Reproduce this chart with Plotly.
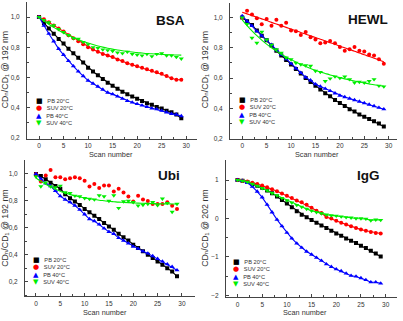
import plotly.graph_objects as go

W, H = 403, 321
scans = list(range(30))

series_names = ["PB 20°C", "SUV 20°C", "PB 40°C", "SUV 40°C"]
series_colors = ["#000000", "#ff0000", "#0000ff", "#00ee00"]
series_symbols = ["square", "circle", "triangle-up", "triangle-down"]
legend_glyphs = ["■", "●", "▲", "▼"]

# ---- BSA ----
bsa_pb20 = [1.0,0.96,0.925,0.89,0.855,0.825,0.79,0.76,0.73,0.70,0.665,0.64,0.615,0.59,0.565,0.545,0.525,0.505,0.49,0.475,0.46,0.445,0.43,0.42,0.405,0.395,0.38,0.37,0.355,0.33]
bsa_suv20 = [1.0,0.985,0.965,0.945,0.925,0.905,0.88,0.86,0.84,0.82,0.80,0.785,0.77,0.755,0.745,0.735,0.72,0.71,0.695,0.685,0.675,0.665,0.655,0.645,0.635,0.625,0.61,0.595,0.585,0.585]
bsa_pb40 = [1.0,0.943,0.89,0.84,0.79,0.75,0.71,0.675,0.64,0.61,0.58,0.56,0.54,0.52,0.50,0.49,0.475,0.46,0.445,0.435,0.425,0.415,0.405,0.395,0.39,0.38,0.37,0.36,0.355,0.345]
bsa_suv40 = [1.0,0.98,0.965,0.945,0.92,0.90,0.88,0.86,0.855,0.835,0.82,0.80,0.795,0.785,0.78,0.775,0.765,0.76,0.77,0.755,0.75,0.745,0.755,0.74,0.755,0.76,0.745,0.745,0.735,0.725]
bsa_suv40_fit = [1.0,0.976,0.953,0.932,0.913,0.895,0.879,0.864,0.851,0.839,0.828,0.818,0.809,0.801,0.794,0.788,0.782,0.777,0.773,0.769,0.765,0.762,0.759,0.757,0.755,0.753,0.751,0.750,0.749,0.748]

# ---- HEWL ----
hewl_pb20 = [1.0,0.975,0.95,0.915,0.88,0.85,0.815,0.78,0.75,0.72,0.69,0.66,0.63,0.60,0.575,0.55,0.525,0.50,0.48,0.455,0.435,0.415,0.395,0.38,0.36,0.345,0.33,0.315,0.30,0.28]
hewl_suv20 = [1.0,1.045,1.02,0.995,0.955,0.99,0.945,0.985,0.945,0.965,0.915,0.91,0.885,0.905,0.87,0.855,0.83,0.835,0.845,0.83,0.805,0.78,0.79,0.805,0.78,0.775,0.755,0.75,0.725,0.695]
hewl_suv20_fit = [1.035,1.024,1.013,1.002,0.991,0.98,0.968,0.957,0.946,0.935,0.924,0.913,0.901,0.89,0.879,0.868,0.857,0.845,0.834,0.823,0.811,0.8,0.789,0.777,0.766,0.754,0.743,0.731,0.72,0.708]
hewl_pb40 = [1.01,0.975,0.945,0.91,0.88,0.85,0.82,0.785,0.755,0.725,0.695,0.665,0.635,0.605,0.585,0.56,0.545,0.53,0.515,0.50,0.485,0.475,0.465,0.455,0.445,0.435,0.425,0.415,0.405,0.395]
hewl_suv40 = [1.0,0.956,0.865,0.832,0.905,0.854,0.82,0.79,0.767,0.735,0.723,0.70,0.69,0.684,0.68,0.647,0.64,0.58,0.597,0.61,0.60,0.61,0.592,0.57,0.575,0.57,0.58,0.592,0.549,0.544]
hewl_suv40_fit = [0.985,0.947,0.912,0.88,0.851,0.824,0.8,0.778,0.758,0.739,0.722,0.706,0.691,0.677,0.664,0.652,0.641,0.631,0.621,0.612,0.603,0.595,0.588,0.581,0.574,0.568,0.562,0.556,0.551,0.546]

# ---- Ubi ----
ubi_pb20 = [1.0,0.985,0.96,0.935,0.91,0.89,0.85,0.82,0.795,0.77,0.74,0.715,0.69,0.665,0.635,0.61,0.585,0.555,0.53,0.505,0.475,0.45,0.425,0.40,0.375,0.35,0.325,0.30,0.275,0.24]
ubi_suv20 = [1.0,0.944,0.988,1.03,0.975,0.975,0.96,0.968,0.975,0.968,0.95,0.907,0.926,0.895,0.914,0.914,0.87,0.89,0.863,0.833,0.796,0.838,0.81,0.80,0.777,0.777,0.777,0.79,0.764,0.74]
ubi_pb40 = [1.0,0.965,0.93,0.91,0.875,0.835,0.81,0.79,0.765,0.735,0.70,0.665,0.65,0.625,0.595,0.57,0.555,0.525,0.505,0.485,0.46,0.445,0.425,0.41,0.39,0.37,0.35,0.33,0.31,0.285]
ubi_suv40 = [0.98,0.907,0.936,0.907,0.90,0.912,0.863,0.857,0.838,0.833,0.82,0.814,0.81,0.84,0.833,0.80,0.84,0.747,0.796,0.80,0.79,0.764,0.77,0.777,0.79,0.767,0.816,0.784,0.718,0.777]
ubi_suv40_fit = [0.97,0.945,0.923,0.904,0.887,0.872,0.859,0.848,0.838,0.83,0.822,0.816,0.81,0.805,0.801,0.797,0.794,0.791,0.789,0.787,0.785,0.783,0.782,0.781,0.78,0.779,0.778,0.778,0.777,0.777]

# ---- IgG ----
igg_pb20 = [1.0,0.98,0.95,0.90,0.85,0.80,0.73,0.66,0.57,0.48,0.39,0.29,0.19,0.10,0.03,-0.04,-0.11,-0.18,-0.25,-0.32,-0.39,-0.45,-0.52,-0.58,-0.64,-0.71,-0.77,-0.84,-0.91,-0.99]
igg_suv20 = [1.0,0.98,0.96,0.93,0.90,0.86,0.81,0.76,0.71,0.65,0.59,0.53,0.47,0.42,0.36,0.28,0.20,0.14,0.04,0.0,-0.06,-0.11,-0.16,-0.20,-0.25,-0.29,-0.32,-0.35,-0.38,-0.39]
igg_pb40 = [1.0,0.98,0.93,0.83,0.70,0.55,0.36,0.16,-0.03,-0.20,-0.37,-0.52,-0.65,-0.76,-0.86,-0.94,-1.02,-1.10,-1.19,-1.26,-1.32,-1.37,-1.43,-1.49,-1.51,-1.55,-1.60,-1.66,-1.66,-1.69]
igg_suv40 = [1.0,0.98,0.95,0.90,0.85,0.79,0.73,0.66,0.60,0.53,0.47,0.41,0.35,0.30,0.25,0.20,0.16,0.13,0.10,0.08,0.07,0.05,0.03,0.02,0.0,0.0,-0.01,-0.05,-0.03,-0.04]

y_tick_vals_frac = [0.2, 0.4, 0.6, 0.8, 1.0]
y_tick_vals_igg = [-2, -1, 0, 1]
x_tick_vals = [0, 5, 10, 15, 20, 25, 30]

def px(x):
    return x / W

def py(y):
    return 1 - y / H

panels = [
    dict(title="BSA", nm="192",
         data=[bsa_pb20, bsa_suv20, bsa_pb40, bsa_suv40],
         fits=[None, None, None, bsa_suv40_fit], noline=[],
         box=(27, 197, 2, 140), xr=[-2.45, 32.2], yr=[0.195, 1.10], yt=y_tick_vals_frac, fmt=".1f",
         title_xy=(170, 20.5), ytitle_xy=(5, 70), xtitle_xy=(111.3, 156),
         leg_xy=(34.5, 113.5)),
    dict(title="HEWL", nm="192",
         data=[hewl_pb20, hewl_suv20, hewl_pb40, hewl_suv40],
         fits=[None, hewl_suv20_fit, None, hewl_suv40_fit], noline=[],
         box=(230, 397, 2.7, 140), xr=[-2.5, 31.7], yr=[0.2, 1.098], yt=y_tick_vals_frac, fmt=".1f",
         title_xy=(367.5, 19.5), ytitle_xy=(205, 70), xtitle_xy=(316.7, 155.7),
         leg_xy=(237.5, 112.5)),
    dict(title="Ubi", nm="192",
         data=[ubi_pb20, ubi_suv20, ubi_pb40, ubi_suv40],
         fits=[None, None, None, ubi_suv40_fit], noline=[1],
         box=(25, 195, 162, 299), xr=[-2.26, 32.7], yr=[0.092, 1.10], yt=y_tick_vals_frac, fmt=".1f",
         title_xy=(168.5, 177.5), ytitle_xy=(5, 230), xtitle_xy=(105, 315.7),
         leg_xy=(32, 274)),
    dict(title="IgG", nm="202",
         data=[igg_pb20, igg_suv20, igg_pb40, igg_suv40],
         fits=[None, None, None, None], noline=[],
         box=(226, 397, 162, 300), xr=[-2.33, 32.3], yr=[-2.05, 1.51], yt=y_tick_vals_igg, fmt="d",
         title_xy=(368.5, 177.5), ytitle_xy=(205, 230), xtitle_xy=(305, 315.3),
         leg_xy=(232.5, 276)),
]

fig = go.Figure()
annotations = []
FONT = "Liberation Sans, Arial, sans-serif"
TXT = "#333333"

legend_lines = []
for k in range(4):
    legend_lines.append(
        "<span style='color:%s;font-family:DejaVu Sans;font-size:7px'>%s</span>\u00a0\u00a0\u00a0%s"
        % (series_colors[k], legend_glyphs[k], series_names[k]))
legend_text = "<br>".join(legend_lines)

for i, p in enumerate(panels):
    n = "" if i == 0 else str(i + 1)
    xa, ya = "x" + n, "y" + n
    for k in range(4):
        vals = p["data"][k]
        has_fit = p["fits"][k] is not None
        line_on = (not has_fit) and (k not in p["noline"])
        fig.add_trace(go.Scatter(
            x=scans, y=vals, xaxis=xa, yaxis=ya,
            mode="lines+markers" if line_on else "markers",
            line=dict(color=series_colors[k], width=1.1),
            marker=dict(symbol=series_symbols[k], color=series_colors[k],
                        size=4.5 if k >= 2 else 4),
            showlegend=False, name=series_names[k]))
        if has_fit:
            fig.add_trace(go.Scatter(
                x=scans, y=p["fits"][k], xaxis=xa, yaxis=ya, mode="lines",
                line=dict(color=series_colors[k], width=1.1, shape="spline"),
                showlegend=False, hoverinfo="skip"))
    x0, x1, y0, y1 = p["box"]
    axis_common = dict(showline=True, linecolor="#444444", linewidth=1, mirror=False,
                       showgrid=False, zeroline=False, ticks="inside", ticklen=3,
                       tickcolor="#444444", tickwidth=1,
                       tickfont=dict(family=FONT, size=6.5, color=TXT))
    fig.update_layout(**{
        "xaxis" + n: dict(domain=[px(x0), px(x1)], range=p["xr"], anchor=ya,
                          tickvals=x_tick_vals, ticklabelstandoff=1,
                          minor=dict(ticks="inside", ticklen=2, dtick=2.5, tick0=0, tickcolor="#444444"),
                          **axis_common),
        "yaxis" + n: dict(domain=[py(y1), py(y0)], range=p["yr"], anchor=xa,
                          tickvals=p["yt"], tickformat=p["fmt"], ticklabelstandoff=5,
                          minor=dict(ticks="inside", ticklen=2,
                                     dtick=0.1 if p["fmt"] != "d" else 0.5, tick0=0,
                                     tickcolor="#444444"),
                          **axis_common),
    })
    tx, ty = p["title_xy"]
    annotations.append(dict(text="<b>%s</b>" % p["title"], x=px(tx), y=py(ty), xref="paper", yref="paper",
                            xanchor="center", yanchor="middle", showarrow=False,
                            font=dict(family=FONT, size=13.5, color="#111111")))
    yx, yy = p["ytitle_xy"]
    annotations.append(dict(text="CD\u2099/CD\u2081 @ %s nm" % p["nm"], textangle=-90,
                            x=px(yx), y=py(yy), xref="paper", yref="paper",
                            xanchor="center", yanchor="middle", showarrow=False,
                            font=dict(family="Liberation Sans, DejaVu Sans, sans-serif", size=8.8, color=TXT)))
    xx, xy = p["xtitle_xy"]
    annotations.append(dict(text="Scan number", x=px(xx), y=py(xy), xref="paper", yref="paper",
                            xanchor="center", yanchor="middle", showarrow=False,
                            font=dict(family=FONT, size=7.3, color=TXT)))
    lx, ly = p["leg_xy"]
    annotations.append(dict(text=legend_text, x=px(lx), y=py(ly), xref="paper", yref="paper",
                            xanchor="left", yanchor="middle", align="left", showarrow=False,
                            borderpad=0,
                            font=dict(family=FONT, size=5.7, color=TXT)))

fig.update_layout(width=W, height=H, margin=dict(l=0, r=0, t=0, b=0),
                  paper_bgcolor="white", plot_bgcolor="white", separators=",.",
                  showlegend=False, annotations=annotations)

fig.write_html("out.html")
